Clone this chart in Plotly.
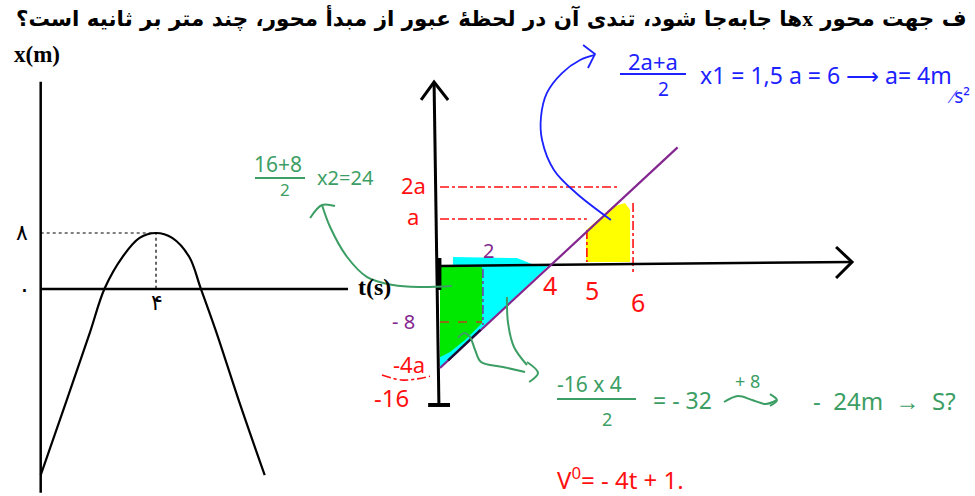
import plotly.graph_objects as go

W, H = 975, 496

# ---- left graph: x(t) ----
t_curve = [0, 0.9, 1.7, 2.22, 2.84, 3.43, 4.0, 4.56, 5.15, 5.55, 6.07, 6.87, 7.77]
x_curve = [-26.6, -15.9, -6.3, 0.1, 4.6, 7.3, 8.0, 7.3, 4.6, 0.1, -5.9, -15.9, -26.6]
t_peak = 4
x_peak = 8
left_t_end = 10.66
left_x_top = 29.6
left_x_bottom = -29.1

# ---- right sketch: v(t), hand drawn units of the sketch ----
line_t = [0, 8.8]
line_v = [-16, 18.6]
dark_t = [0.3, 1.5]
dark_v = [-14.8, -10.0]

cyan_t = [0, 0, 0.48, 0.48, 2.85, 3.59, 4.0, 0]
cyan_v = [-16, 0, 0, 1.41, 1.25, 0, 0, -16]
green_t = [0, 1.56, 1.56, 0.93, 0.37, 0, 0]
green_v = [-0.16, -0.16, -8.94, -11.6, -13.5, -14.3, -0.16]
yellow_t = [5.41, 5.41, 5.93, 6.37, 6.85, 7.04, 7.04, 5.41]
yellow_v = [0.63, 5.65, 7.53, 9.25, 9.88, 8.78, 0.63, 0.63]

# red dash-dot guides (2a, a, t=5, t=6)
guide_2a_t, guide_2a_v = [0, 6.56], [12.39, 12.39]
guide_a_t, guide_a_v = [0, 5.44], [7.37, 7.37]
guide_5_t, guide_5_v = [5.44, 5.44], [5.65, 0.63]
guide_6_t, guide_6_v = [7.15, 7.15], [9.88, -1.41]
arc_t, arc_v = [-2.15, -1.37, -0.37], [-17.1, -17.9, -17.3]
# purple / brown guides inside the green area
purple_guide_t, purple_guide_v = [1.59, 1.59], [-0.47, -9.25]
brown_guide_t, brown_guide_v = [0, 1.56], [-8.78, -8.78]

# axes of the sketch
vaxis_t, vaxis_v = [-0.22, -0.04], [28.86, -21.8]
vhead_t, vhead_v = [-0.70, -0.22, 0.30], [26.04, 28.86, 26.04]
vfoot_t, vfoot_v = [-0.44, 0.37], [-21.8, -21.8]
haxis_t, haxis_v = [0, 15.26], [0, 0.63]
hhead_t, hhead_v = [14.67, 15.26, 14.67], [2.98, 0.63, -1.88]
stub_t, stub_v = [-0.04, -0.04], [1.25, -3.76]

# pointer strokes
blue_t = [6.33, 5.04, 4.22, 3.78, 3.74, 3.96, 4.52, 5.19, 5.74]
blue_v = [7.22, 11.45, 15.06, 19.76, 23.37, 27.14, 30.27, 32.31, 33.1]
bluehead_t, bluehead_v = [5.30, 5.74, 5.48], [34.67, 33.25, 31.06]
gtop_t = [-4.37, -4.07, -3.44, -2.70, -1.74, -0.74, 0.44]
gtop_v = [9.57, 6.12, 1.41, -1.73, -2.98, -3.29, -3.14]
gtophead_t, gtophead_v = [-4.81, -4.37, -3.89], [7.53, 9.57, 9.41]
ga_t, ga_v = [2.48, 2.52, 2.74, 3.22], [-4.86, -8.94, -12.71, -15.53]
gb_t = [0.67, 0.89, 1.11, 1.30, 1.52, 2.33, 3.15]
gb_v = [-11.29, -10.51, -11.14, -13.18, -15.06, -15.84, -16.63]
ghead_t, ghead_v = [3.22, 3.63, 3.30], [-15.06, -16.78, -18.2]
wave_t, wave_v = [10.52, 11.04, 11.56, 12.07, 12.48], [-21.33, -20.39, -21.02, -21.65, -21.02]
wavehead_t, wavehead_v = [12.22, 12.48, 12.22], [-20.08, -21.02, -21.96]

RED = "#ff1010"
GREEN = "#3c9e64"
BLUE = "#1c22ff"
PURPLE = "#84268f"
HAND = "Noto Sans"

fig = go.Figure()


def left(x, y, **kw):
    fig.add_trace(go.Scatter(x=x, y=y, mode="lines", hoverinfo="skip",
                             showlegend=False, **kw))


def right(x, y, **kw):
    fig.add_trace(go.Scatter(x=x, y=y, xaxis="x2", yaxis="y2", mode="lines",
                             hoverinfo="skip", showlegend=False, **kw))


# left graph
left([0, 0], [left_x_bottom, left_x_top], line=dict(color="black", width=2.5))
left([0, left_t_end], [0, 0], line=dict(color="black", width=2.5))
left([0, t_peak, t_peak], [x_peak, x_peak, 0],
     line=dict(color="black", width=1.2, dash="dot"))
left(t_curve, x_curve, line=dict(color="black", width=2.2, shape="spline"))

# right sketch: fills first
right(cyan_t, cyan_v, fill="toself", fillcolor="#00ffff", line=dict(width=0))
right(green_t, green_v, fill="toself", fillcolor="#00e800", line=dict(width=0))
right(yellow_t, yellow_v, fill="toself", fillcolor="#ffff00", line=dict(width=0))

for gt, gv in [(guide_2a_t, guide_2a_v), (guide_a_t, guide_a_v),
               (guide_5_t, guide_5_v), (guide_6_t, guide_6_v), (arc_t, arc_v)]:
    right(gt, gv, line=dict(color=RED, width=1.6, dash="dashdot", shape="spline"))
right(purple_guide_t, purple_guide_v, line=dict(color=PURPLE, width=1.4, dash="dashdot"))
right(brown_guide_t, brown_guide_v, line=dict(color="#b5471c", width=1.4, dash="dash"))

right(vaxis_t, vaxis_v, line=dict(color="black", width=3))
right(vhead_t, vhead_v, line=dict(color="black", width=3))
right(vfoot_t, vfoot_v, line=dict(color="black", width=4))
right(haxis_t, haxis_v, line=dict(color="black", width=2.5))
right(hhead_t, hhead_v, line=dict(color="black", width=3))
right(stub_t, stub_v, line=dict(color="black", width=5))

right(line_t, line_v, line=dict(color=PURPLE, width=2.2))
right(dark_t, dark_v, line=dict(color="#1b1030", width=2.4))

right(blue_t, blue_v, line=dict(color=BLUE, width=1.8, shape="spline"))
right(bluehead_t, bluehead_v, line=dict(color=BLUE, width=1.8))
for gt, gv in [(gtop_t, gtop_v), (gtophead_t, gtophead_v), (ga_t, ga_v),
               (gb_t, gb_v), (ghead_t, ghead_v), (wave_t, wave_v),
               (wavehead_t, wavehead_v)]:
    right(gt, gv, line=dict(color=GREEN, width=2, shape="spline"))


def px(x, y):
    return x / W, 1 - y / H


notes = []


def note(text, x, y, color="black", size=20, family=HAND, **kw):
    xx, yy = px(x, y)
    notes.append(dict(text=text, x=xx, y=yy, xref="paper", yref="paper",
                      showarrow=False, font=dict(color=color, size=size, family=family),
                      xanchor=kw.pop("xanchor", "center"), yanchor="middle", **kw))


SERIF = "Liberation Serif, DejaVu Serif"
title = ("\u202bف جهت محور <span style='font-family:Liberation Serif'>x</span>ها "
         "جابه‌جا شود، تندی آن در لحظهٔ عبور از مبدأ محور، چند متر بر ثانیه است؟\u202c")
note("<b>" + title + "</b>", 969, 17, size=21.4, family="DejaVu Sans", xanchor="right")
note("<b>x(m)</b>", 37, 55, size=23, family=SERIF)
note("<b>t(s)</b>", 374, 287, size=24, family=SERIF)
note("۸", 22, 232, size=22, family="DejaVu Sans")
note("۰", 24, 289, size=24, family="DejaVu Sans")
note("۴", 157, 302, size=22, family="DejaVu Sans")

note("2a", 413, 185, RED, 22)
note("a", 413, 216, RED, 22)
note("4", 550, 285, RED, 25)
note("5", 592, 290, RED, 25)
note("6", 638, 302, RED, 25)
note("-4a", 409, 364, RED, 22)
note("-16", 391, 397, RED, 24)
note("2", 489, 250, PURPLE, 20)
note("- 8", 403, 321, PURPLE, 20)

note("16+8", 278, 164, GREEN, 21)
note("2", 285, 189, GREEN, 17)
note("x2=24", 345, 177, GREEN, 20)
note("-16 x 4", 589, 384, GREEN, 21)
note("2", 607, 419, GREEN, 18)
note("= - 32", 682, 400, GREEN, 23)
note("+ 8", 747, 381, GREEN, 18)
note("-  24m  →  S?", 884, 400, GREEN, 24)

note("2a+a", 653, 61, BLUE, 22)
note("2", 663, 89, BLUE, 19)
note("x1 = 1,5 a = 6 ⟶ a= 4m", 826, 75, BLUE, 23)
note("∕s²", 958, 96, BLUE, 19)

note("V<sup>0</sup>= - 4t + 1.", 620, 478, RED, 24)

# fraction bars
bars = [(255, 305, 178, GREEN), (557, 636, 399, GREEN), (620, 686, 74, BLUE)]
shapes = []
for x0, x1, y, c in bars:
    a0, b0 = px(x0, y)
    a1, _ = px(x1, y)
    shapes.append(dict(type="line", xref="paper", yref="paper", x0=a0, x1=a1,
                       y0=b0, y1=b0, line=dict(color=c, width=2)))

lx0, lppu = 40.7, 28.83
ly0, lppv = 289, 7.0
rx0, rppu = 440, 27.0
ry0, rppv = 266, 6.375
hidden = dict(visible=False, showgrid=False, zeroline=False, fixedrange=True)

fig.update_layout(
    width=W, height=H, margin=dict(l=0, r=0, t=0, b=0),
    paper_bgcolor="white", plot_bgcolor="white",
    xaxis=dict(range=[-lx0 / lppu, (W - lx0) / lppu], domain=[0, 1], **hidden),
    yaxis=dict(range=[(ly0 - H) / lppv, ly0 / lppv], domain=[0, 1], **hidden),
    xaxis2=dict(range=[-rx0 / rppu, (W - rx0) / rppu], domain=[0, 1],
                overlaying="x", **hidden),
    yaxis2=dict(range=[(ry0 - H) / rppv, ry0 / rppv], domain=[0, 1],
                overlaying="y", **hidden),
    annotations=notes, shapes=shapes,
)

# drop the default 8px body margin so the figure fills the window
fig.write_html("out.html", config={"displayModeBar": False},
               post_script="document.body.style.margin='0';")
